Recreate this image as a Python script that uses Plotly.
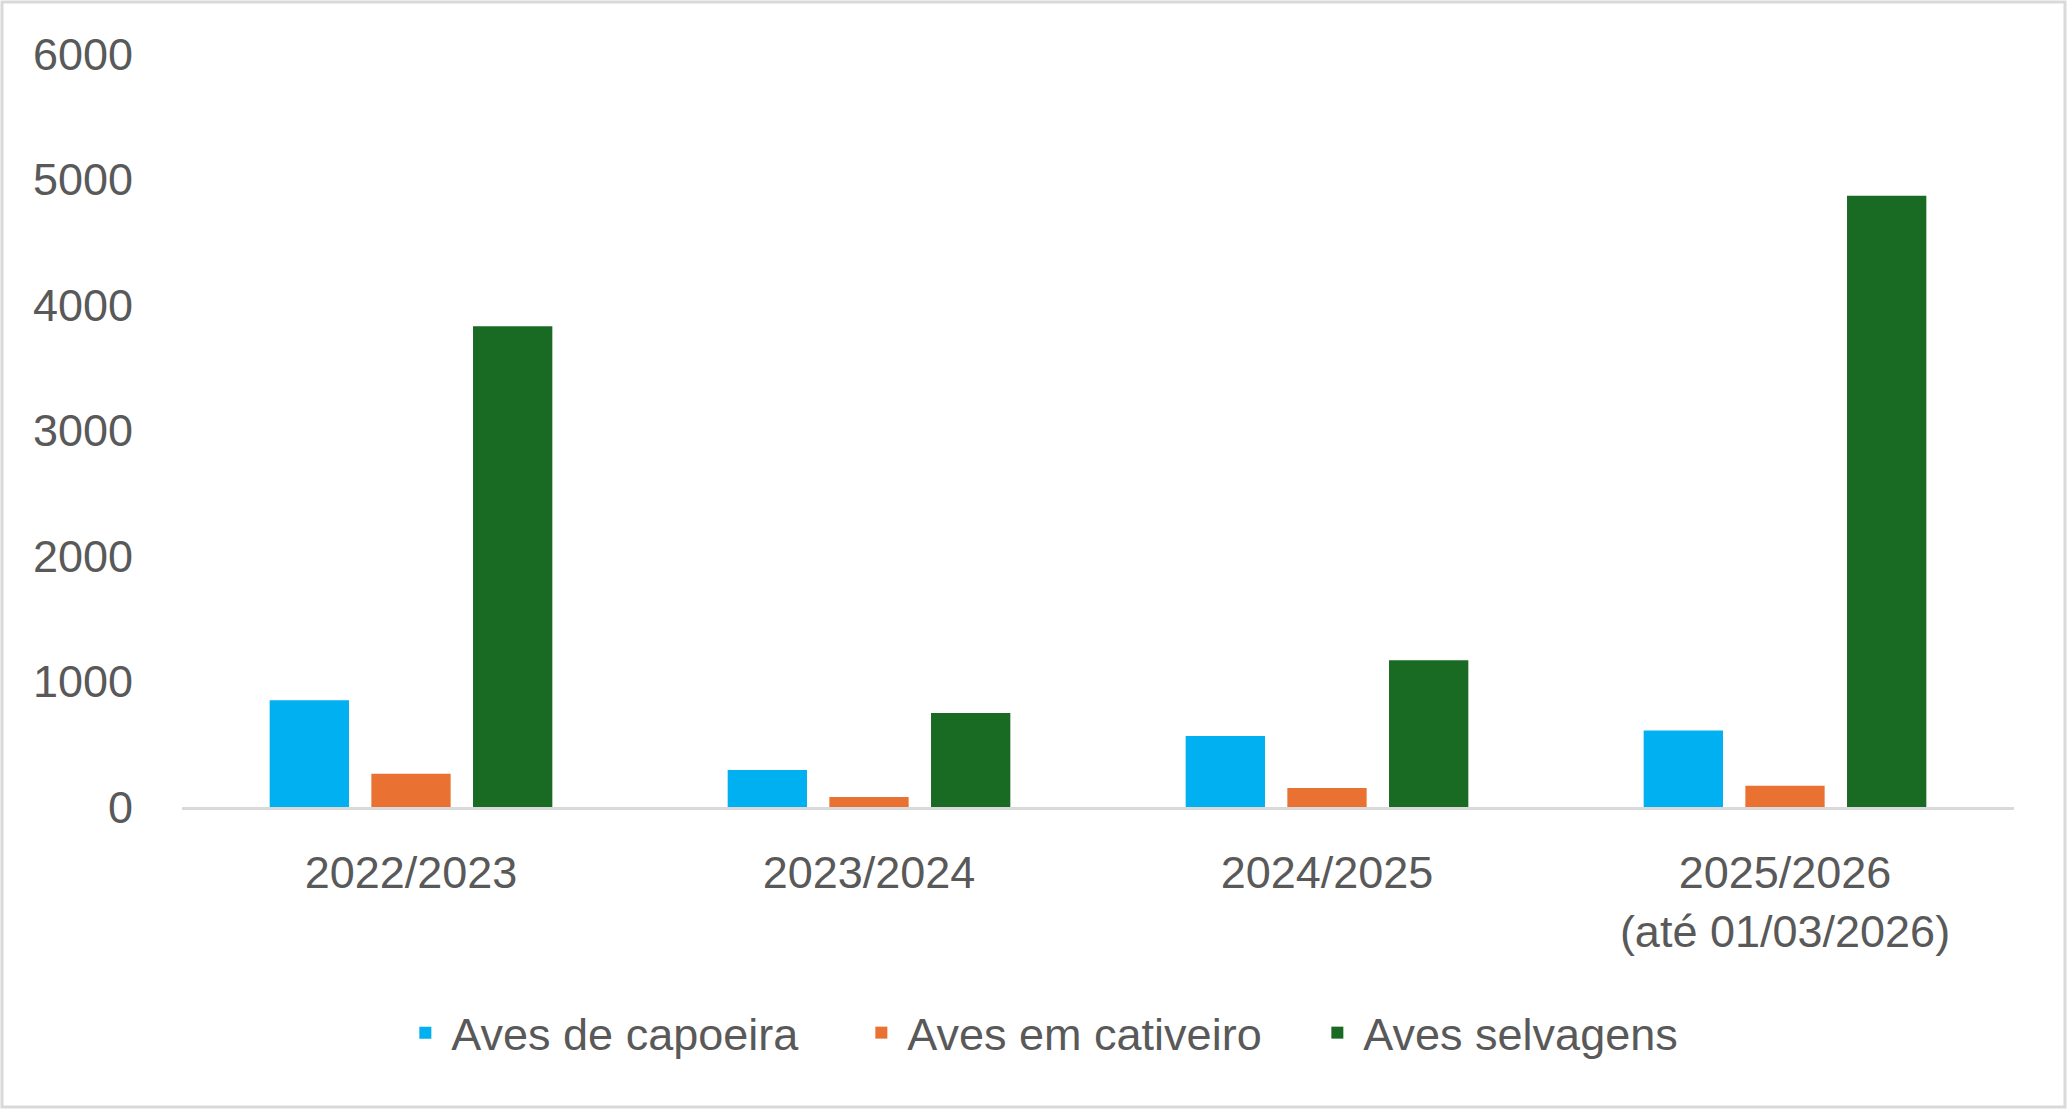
import plotly.graph_objects as go

categories = ["2022/2023", "2023/2024", "2024/2025", "2025/2026<br>(até 01/03/2026)"]
capoeira = [850, 295, 565, 610]
cativeiro = [265, 80, 152, 170]
selvagens = [3830, 750, 1170, 4870]
y_ticks = [0, 1000, 2000, 3000, 4000, 5000, 6000]

FONT = "Liberation Sans, Arial, sans-serif"
TXT = "#595959"
FS = 45

fig = go.Figure()
fig.add_trace(go.Bar(name="Aves de capoeira", x=categories, y=capoeira,
                     marker=dict(color="#00B0F0", line=dict(width=0))))
fig.add_trace(go.Bar(name="Aves em cativeiro", x=categories, y=cativeiro,
                     marker=dict(color="#E97132", line=dict(width=0))))
fig.add_trace(go.Bar(name="Aves selvagens", x=categories, y=selvagens,
                     marker=dict(color="#196B24", line=dict(width=0))))

fig.update_layout(
    width=2068, height=1110,
    margin=dict(l=182, r=54, t=54, b=303, autoexpand=False),
    paper_bgcolor="white", plot_bgcolor="white",
    barmode="group", bargap=0.334, bargroupgap=0.22,
    font=dict(family=FONT, size=FS, color=TXT),
    showlegend=True,
    legend=dict(orientation="h", x=0.492, xanchor="center", y=-0.30, yanchor="middle",
                font=dict(family=FONT, size=FS, color=TXT), itemwidth=42,
                entrywidth=399, entrywidthmode="pixels",
                bgcolor="rgba(0,0,0,0)"),
    xaxis=dict(showgrid=False, showline=True, linecolor="#D9D9D9", linewidth=3,
               ticks="", ticklabelstandoff=24, tickfont=dict(size=FS, color=TXT)),
    yaxis=dict(range=[0, 6000], tickvals=y_ticks, showgrid=False, showline=False,
               zeroline=False, ticks="", ticklabelstandoff=48,
               tickfont=dict(size=FS, color=TXT)),
    shapes=[dict(type="rect", xref="paper", yref="paper",
                 x0=(2 - 182) / 1832, x1=(2065 - 182) / 1832,
                 y0=(807 - 1107) / 753, y1=(807 - 2) / 753,
                 line=dict(color="#D9D9D9", width=3), fillcolor="rgba(0,0,0,0)",
                 layer="below")],
)

fig.write_html("out.html", config={"displayModeBar": False},
               post_script="document.body.style.margin='0';document.body.style.padding='0';")
